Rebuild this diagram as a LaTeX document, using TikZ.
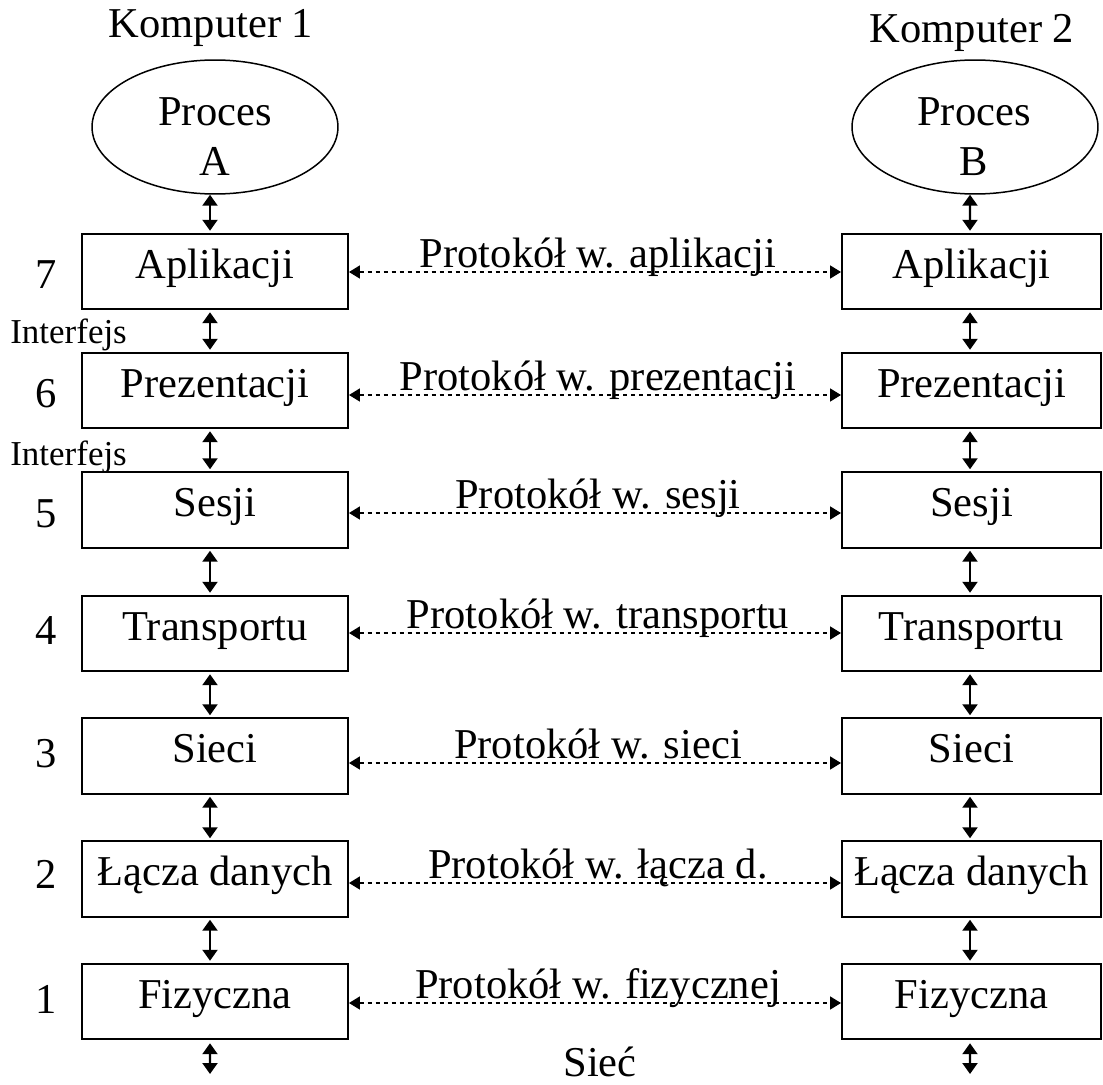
\documentclass[tikz,border=0pt]{standalone}
\usepackage{fontspec}
\setmainfont{Liberation Serif}
\usetikzlibrary{arrows.meta,calc,shapes.geometric}
\begin{document}
\begin{tikzpicture}[x=0.02cm,y=-0.02cm,
  big/.style={font=\fontsize{24.2pt}{29pt}\selectfont},
  small/.style={font=\fontsize{19.9pt}{24pt}\selectfont},
  layer/.style={big, draw, line width=0.04cm, rectangle, minimum height=1.51cm,
    inner sep=0pt, text height=0.46cm, text depth=0.2cm},
  layerL/.style={layer, minimum width=5.32cm},
  layerR/.style={layer, minimum width=5.18cm},
  proc/.style={draw, ellipse, line width=0.03cm, minimum width=4.92cm,
    minimum height=2.68cm, inner sep=0pt},
  varr/.style={line width=0.045cm,
    {Triangle[length=0.22cm,width=0.3cm]}-{Triangle[length=0.22cm,width=0.3cm]}},
  harr/.style={line width=0.035cm, dash pattern=on 0.08cm off 0.08cm,
    {Triangle[length=0.22cm,width=0.26cm]}-{Triangle[length=0.22cm,width=0.26cm]}},
  plabel/.style={big, anchor=base, inner sep=0pt},
]
\useasboundingbox (0,0) rectangle (1103,1085);

% computer headings
\node[plabel] (k1) at (211,37) {Komputer 1};
\node[plabel] (k2) at (972,42) {Komputer 2};

% application processes
\node[proc] (pa) at (215,127) {};
\node[plabel] (pat) at (215,125) {Proces};
\node[plabel] (pab) at (215,175) {A};
\node[proc] (pb) at (975,127) {};
\node[plabel] (pbt) at (974,125) {Proces};
\node[plabel] (pbb) at (974,175) {B};

% layer stacks of both computers
\foreach \n/\y/\t in {7/271.5/Aplikacji, 6/390.5/Prezentacji, 5/510/Sesji,
    4/633.5/Transportu, 3/756/Sieci, 2/879/Łącza danych, 1/1001.5/Fizyczna}{
  \node[layerL] (L\n) at (215,\y) {\t};
  \node[layerR] (R\n) at (971.5,\y) {\t};
}

% layer numbers
\node[plabel] (n7) at (46,288) {7};
\node[plabel] (n6) at (46,407) {6};
\node[plabel] (n5) at (46,527) {5};
\node[plabel] (n4) at (46,644) {4};
\node[plabel] (n3) at (46,767) {3};
\node[plabel] (n2) at (46,888) {2};
\node[plabel] (n1) at (46,1013) {1};

% interface labels
\node[small, anchor=base west, inner sep=0pt] (if1) at (10,343) {Interfejs};
\node[small, anchor=base west, inner sep=0pt] (if2) at (10,465) {Interfejs};

% peer protocols
\foreach \n/\d/\t in {7/0.5/aplikacji, 6/4.5/prezentacji, 5/3/sesji,
    4/-0.5/transportu, 3/7/sieci, 2/4/łącza d., 1/1.5/fizycznej}{
  \draw[harr] ([yshift=-\d*0.02cm]L\n.east) -- node[midway, plabel, yshift=0.1cm, xshift=0.06cm] (p\n) {Protokół w. \t} ([yshift=-\d*0.02cm]R\n.west);
}

% interfaces between neighbouring layers
\draw[varr] ([xshift=-0.1cm]pa.south) -- ([xshift=-0.1cm,yshift=0.04cm]L7.north);
\draw[varr] ([xshift=-0.1cm]pb.south) -- ([xshift=-0.03cm,yshift=0.04cm]R7.north);
\foreach \a/\b in {7/6, 6/5, 5/4, 4/3, 3/2, 2/1}{
  \draw[varr] ([xshift=-0.1cm,yshift=-0.04cm]L\a.south) -- ([xshift=-0.1cm,yshift=0.04cm]L\b.north);
  \draw[varr] ([xshift=-0.03cm,yshift=-0.04cm]R\a.south) -- ([xshift=-0.03cm,yshift=0.04cm]R\b.north);
}

% physical medium
\coordinate (gL) at (210,1074);
\coordinate (gR) at (970,1074);
\draw[varr] ([xshift=-0.1cm,yshift=-0.06cm]L1.south) -- (gL);
\draw[varr] ([xshift=-0.03cm,yshift=-0.06cm]R1.south) -- (gR);
\node[plabel] (net) at (600,1076) {Sieć};
\end{tikzpicture}
\end{document}
